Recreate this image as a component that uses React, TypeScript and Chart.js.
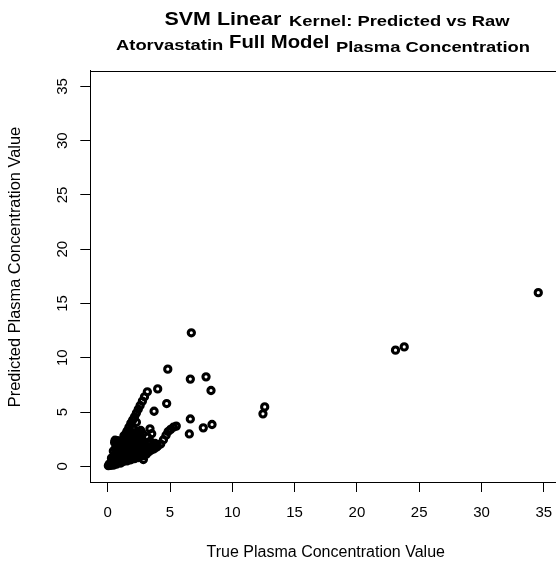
import React, { useEffect, useRef } from "react";
import { Chart, registerables } from "chart.js";

Chart.register(...registerables);

// True (observed) plasma concentration values
const trueValues: number[] = [
  34.56, 23.1, 23.8, 12.6, 12.46, 6.71, 4.82, 6.63, 7.89, 8.29, 4.01, 4.73, 3.72, 6.63, 8.37, 7.67, 6.55,
  3.18, 2.95, 2.78, 2.6, 2.45, 2.3, 2.15, 2.0, 1.85, 1.7, 1.55, 2.3,
  5.5, 5.27, 5.05, 4.85, 4.68, 4.47, 4.25, 4.0, 3.8, 3.53, 3.39, 3.2, 3.4,
  2.86, 0.59, 1.12,
  0.05, 0.12, 0.2, 0.25, 0.3, 0.35, 0.4, 0.45, 0.5, 0.55, 0.6, 0.7, 0.75, 0.85, 0.95, 1.05, 1.1, 1.25, 1.4, 1.55, 1.7, 1.85, 2.0, 2.15, 2.3, 2.45, 2.6,
  0.3, 0.45, 0.6, 0.65, 0.8, 0.9, 1.0, 1.15, 1.3, 1.35, 1.5, 1.6, 1.75, 1.9, 2.05, 2.2, 2.35, 2.5, 2.7, 2.85, 3.0,
  0.45, 0.6, 0.75, 0.85, 1.0, 1.1, 1.25, 1.4, 1.45, 1.6, 1.75, 1.8, 1.95, 2.1, 2.2, 2.35, 2.5, 2.6, 2.75, 2.9, 3.05, 3.2, 3.4,
  0.55, 0.7, 0.8, 0.95, 1.2, 1.35, 1.5, 1.6, 1.7, 1.85, 1.95, 2.1, 2.2, 2.35, 2.45, 2.6, 2.7, 2.85,
  1.3, 1.45, 1.6, 1.75, 1.85, 2.0, 2.1, 2.25, 2.4, 2.55, 2.65, 2.8,
  2.8, 3.1, 3.3, 3.5, 3.7, 3.6, 3.9, 3.3,
];

// SVM linear kernel predictions
const predictedValues: number[] = [
  16.0, 10.7, 11.0, 5.47, 4.83, 12.3, 8.95, 8.03, 8.24, 6.98, 7.13, 5.78, 5.07, 4.36, 3.85, 3.54, 2.98,
  6.86, 6.4, 6.0, 5.6, 5.25, 4.9, 4.55, 4.25, 3.95, 3.6, 3.25, 4.05,
  3.7, 3.6, 3.4, 3.2, 2.86, 2.45, 2.05, 1.85, 2.1, 3.0, 3.45, 2.7, 2.3,
  0.62, 2.4, 2.24,
  0.05, 0.2, 0.08, 0.3, 0.15, 0.45, 0.25, 0.1, 0.4, 0.6, 0.3, 0.2, 0.5, 0.35, 0.45, 0.3, 0.55, 0.45, 0.55, 0.5, 0.65, 0.6, 0.75, 0.7, 0.85, 0.8, 0.9,
  0.75, 0.9, 1.05, 0.8, 0.95, 1.2, 0.8, 1.0, 0.85, 1.2, 0.95, 1.15, 1.0, 1.2, 1.05, 1.25, 1.1, 1.3, 1.15, 1.35, 1.25,
  1.4, 1.6, 1.45, 1.75, 1.5, 1.85, 1.6, 1.45, 1.9, 1.65, 1.5, 1.95, 1.7, 1.55, 1.9, 1.7, 1.55, 1.85, 1.7, 1.9, 1.6, 1.8, 1.75,
  2.2, 2.05, 2.35, 2.15, 2.05, 2.5, 2.2, 2.6, 2.3, 2.1, 2.5, 2.3, 2.65, 2.15, 2.45, 2.2, 2.55, 2.3,
  2.8, 3.0, 2.85, 3.2, 2.9, 3.1, 3.4, 2.95, 3.2, 2.9, 3.3, 3.0,
  0.95, 1.1, 1.35, 1.5, 1.6, 1.9, 1.75, 2.1,
];

const xTicks: number[] = [0, 5, 10, 15, 20, 25, 30, 35];
const yTicks: number[] = [0, 5, 10, 15, 20, 25, 30, 35];

const titlePieces = [
  { text: "SVM Linear", big: true },
  { text: "Kernel: Predicted vs Raw", big: false },
  { text: "Atorvastatin", big: false },
  { text: "Full Model", big: true },
  { text: "Plasma Concentration", big: false },
];
const xTitle = "True Plasma Concentration Value";
const yTitle = "Predicted Plasma Concentration Value";

const FONT = '"Liberation Sans", Arial, Helvetica, sans-serif';

// placement of title pieces (left x, baseline y, horizontal stretch)
const titlePos = [
  [164.5, 25, 1.225],
  [289, 26, 1.225],
  [116, 50, 1.225],
  [229, 47.5, 1.16],
  [336, 51.5, 1.225],
];

const framePlugin = {
  id: "frameAndTitle",
  afterDraw(chart: any) {
    const { ctx, chartArea: a } = chart;
    ctx.save();
    ctx.strokeStyle = "#000";
    ctx.lineWidth = 1;
    ctx.strokeRect(Math.round(a.left) + 0.5, Math.round(a.top) + 0.5, a.right - a.left, Math.round(a.bottom) - Math.round(a.top));
    ctx.fillStyle = "#000";
    ctx.textBaseline = "alphabetic";
    ctx.textAlign = "left";
    titlePieces.forEach((p, i) => {
      const [x, y, sx] = titlePos[i];
      ctx.save();
      ctx.translate(x, y);
      ctx.scale(sx, 1);
      ctx.font = `bold ${p.big ? 17.5 : 15}px ${FONT}`;
      ctx.fillText(p.text, 0, 0);
      ctx.restore();
    });
    // y axis title
    ctx.save();
    ctx.translate(15.5, 267);
    ctx.rotate(-Math.PI / 2);
    ctx.font = `16.4px ${FONT}`;
    ctx.textAlign = "center";
    ctx.textBaseline = "middle";
    ctx.fillText(yTitle, 0, 0);
    ctx.restore();
    ctx.restore();
  },
};

export default function App() {
  const ref = useRef<HTMLCanvasElement | null>(null);
  useEffect(() => {
    if (!ref.current) return;
    const points = trueValues.map((x, i) => ({ x, y: predictedValues[i] }));
    const chart = new Chart(ref.current, {
      type: "scatter",
      data: {
        datasets: [
          {
            data: points,
            pointStyle: "circle",
            pointRadius: 3.1,
            pointHoverRadius: 3.1,
            borderWidth: 3.1,
            pointBorderWidth: 3.1,
            borderColor: "#000",
            backgroundColor: "rgba(0,0,0,0)",
          },
        ],
      },
      options: {
        animation: false,
        responsive: false,
        devicePixelRatio: 1,
        events: [],
        layout: { padding: { left: 0, top: 70.7, right: 13.8, bottom: 0 } },
        plugins: {
          legend: { display: false },
          title: { display: false },
          tooltip: { enabled: false },
        },
        scales: {
          x: {
            type: "linear",
            min: -1.4,
            max: 36.4,
            afterBuildTicks: (s: any) => {
              s.ticks = xTicks.map((v) => ({ value: v }));
            },
            afterFit: (s: any) => {
              s.height = 83;
            },
            grid: {
              display: true,
              drawOnChartArea: false,
              drawTicks: true,
              tickLength: 10,
              tickColor: "#000",
              tickWidth: 1,
            },
            border: { display: true, color: "#000", width: 1 },
            ticks: {
              autoSkip: false,
              maxRotation: 0,
              minRotation: 0,
              padding: 12,
              color: "#000",
              font: { family: FONT, size: 15 },
            },
            title: {
              display: true,
              text: xTitle,
              color: "#000",
              font: { family: FONT, size: 16 },
              padding: { top: 0, bottom: 3 },
            },
          },
          y: {
            type: "linear",
            min: -1.45,
            max: 36.45,
            afterBuildTicks: (s: any) => {
              s.ticks = yTicks.map((v) => ({ value: v }));
            },
            afterFit: (s: any) => {
              s.width = 90.3;
            },
            grid: {
              display: true,
              drawOnChartArea: false,
              drawTicks: true,
              tickLength: 10,
              tickColor: "#000",
              tickWidth: 1,
            },
            border: { display: true, color: "#000", width: 1 },
            ticks: {
              autoSkip: false,
              minRotation: 90,
              maxRotation: 90,
              crossAlign: "center",
              padding: 9,
              color: "#000",
              font: { family: FONT, size: 15 },
            },
            title: { display: false },
          },
        },
      },
      plugins: [framePlugin],
    });
    return () => chart.destroy();
  }, []);

  return (
    <div
      style={{
        position: "fixed",
        left: 0,
        top: 0,
        width: 556,
        height: 565,
        overflow: "hidden",
        background: "#fff",
      }}
    >
      <canvas ref={ref} width={575} height={565} style={{ width: 575, height: 565, display: "block" }} />
    </div>
  );
}
